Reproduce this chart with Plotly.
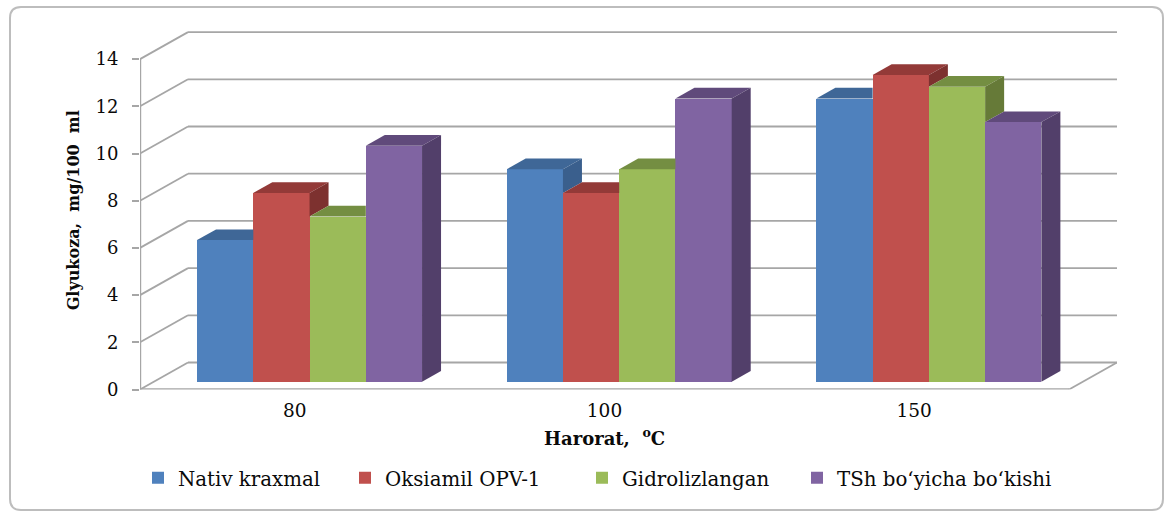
import plotly.graph_objects as go

categories = ["80", "100", "150"]
series_names = ["Nativ kraxmal", "Oksiamil OPV-1", "Gidrolizlangan", "TSh bo‘yicha bo‘kishi"]
nativ = [6, 9, 12]
oksiamil = [8, 8, 13]
gidroliz = [7, 9, 12.5]
tsh = [10, 12, 11]
y_ticks = [0, 2, 4, 6, 8, 10, 12, 14]

front_colors = ["#4F81BD", "#C0504D", "#9BBB59", "#8064A2"]
top_colors = ["#3F6797", "#933A38", "#748E42", "#604A7B"]
side_colors = ["#3A5F8D", "#7D312F", "#667A38", "#523F6A"]
GRID = "#A6A6A6"
FONT = "DejaVu Serif"
INK = "#0A0A0A"

W, H = 1168, 513
PX_L, PX_R, PX_T, PX_B = 140, 1117, 31, 389.5
X_UNIT, Y_UNIT = 309.67, 23.6
x_range = [-0.5, -0.5 + (PX_R - PX_L) / X_UNIT]
y_range = [0, (PX_B - PX_T) / Y_UNIT]
WALL_DX, WALL_DY = 48 / X_UNIT, 27 / Y_UNIT
BAR_W = 56.25 / X_UNIT
BAR_SHIFT = 0.0475
BAR_BASE = 7.8 / Y_UNIT
BAR_DX, BAR_DY = 19 / X_UNIT, 10.7 / Y_UNIT

series = [nativ, oksiamil, gidroliz, tsh]
fig = go.Figure()

def face(xs, ys, color):
    fig.add_trace(go.Scatter(x=xs, y=ys, mode="lines", fill="toself", fillcolor=color,
                             line=dict(width=0, color=color), showlegend=False, hoverinfo="skip"))

legend_ids = ["legend", "legend2", "legend3", "legend4"]
for k, vals in enumerate(series):
    xl = [i + (k - 2) * BAR_W + BAR_SHIFT for i in range(len(categories))]
    fig.add_trace(go.Bar(x=[v + BAR_W / 2 for v in xl], y=vals, base=BAR_BASE, width=BAR_W,
                         name=series_names[k], marker=dict(color=front_colors[k], line=dict(width=0)),
                         legend=legend_ids[k], showlegend=True))

for i in range(len(categories)):
    for k, vals in enumerate(series):
        xl = i + (k - 2) * BAR_W + BAR_SHIFT
        xr = xl + BAR_W
        top = vals[i] + BAR_BASE
        nxt = series[k + 1][i] + BAR_BASE if k < 3 else None
        if nxt is not None and nxt >= top:
            face([xl, xr, xr, xl + BAR_DX, xl], [top, top, top + BAR_DY, top + BAR_DY, top], top_colors[k])
        else:
            face([xl, xr, xr + BAR_DX, xl + BAR_DX, xl], [top, top, top + BAR_DY, top + BAR_DY, top], top_colors[k])
            low = BAR_BASE if nxt is None else nxt
            face([xr, xr + BAR_DX, xr + BAR_DX, xr, xr],
                 [top, top + BAR_DY, low + BAR_DY, low, top], side_colors[k])

shapes = []
def seg(x0, y0, x1, y1, width=1.8, color=GRID):
    shapes.append(dict(type="line", xref="x", yref="y", x0=x0, y0=y0, x1=x1, y1=y1,
                       layer="below", line=dict(color=color, width=width)))

x_end = x_range[0] + 3
for v in y_ticks:
    seg(x_range[0], v, x_range[0] + WALL_DX, v + WALL_DY)
    seg(x_range[0] + WALL_DX, v + WALL_DY, x_end + WALL_DX, v + WALL_DY)
seg(x_range[0], 0, x_end, 0, 2.4)
seg(x_end, 0, x_end + WALL_DX, WALL_DY)
seg(x_range[0], 0, x_range[0], 14, 2.4)

def px(x):
    return x / W
def py(y):
    return 1 - y / H
L, R, T, B, C = 10, 1163, 7, 510, 11
frame = (f"M{px(L+C)},{py(T)} L{px(R-C)},{py(T)} Q{px(R)},{py(T)} {px(R)},{py(T+C)} "
         f"L{px(R)},{py(B-C)} Q{px(R)},{py(B)} {px(R-C)},{py(B)} L{px(L+C)},{py(B)} "
         f"Q{px(L)},{py(B)} {px(L)},{py(B-C)} L{px(L)},{py(T+C)} Q{px(L)},{py(T)} {px(L+C)},{py(T)} Z")
shapes.append(dict(type="path", xref="paper", yref="paper", path=frame, layer="below",
                   line=dict(color="#BDBDBD", width=2), fillcolor="white"))

legend_x = [138, 345, 582, 797]
layout_legends = {}
for lid, lx in zip(legend_ids, legend_x):
    layout_legends[lid] = dict(x=lx / W, y=1 - 478 / H, xanchor="left", yanchor="middle",
                               orientation="h", bgcolor="rgba(0,0,0,0)", itemwidth=30,
                               font=dict(family=FONT, size=19.8, color=INK))

fig.update_layout(
    width=W, height=H, margin=dict(l=0, r=0, t=0, b=0, autoexpand=False),
    paper_bgcolor="white", plot_bgcolor="rgba(0,0,0,0)",
    barmode="overlay", bargap=0, shapes=shapes, hovermode=False,
    annotations=[dict(text="<b>Harorat,  <sup>o</sup>C</b>", xref="paper", yref="paper",
                      x=604 / W, y=1 - 437 / H, xanchor="center", yanchor="middle", showarrow=False,
                      font=dict(family=FONT, size=18, color=INK))],
    xaxis=dict(domain=[PX_L / W, PX_R / W], range=x_range, tickmode="array",
               tickvals=list(range(len(categories))), ticktext=categories,
               showgrid=False, zeroline=False, showline=False,
               ticks="outside", ticklen=4, tickcolor="rgba(0,0,0,0)",
               tickfont=dict(family=FONT, size=18.5, color=INK)),
    yaxis=dict(domain=[1 - PX_B / H, 1 - PX_T / H], range=y_range, tickmode="array",
               tickvals=y_ticks, showgrid=False, zeroline=False, showline=False,
               ticks="outside", ticklen=7, tickwidth=1.5, tickcolor=GRID, ticklabelstandoff=10,
               tickfont=dict(family=FONT, size=18, color=INK),
               title=dict(text="<b>Glyukoza,  mg/100  ml</b>", standoff=11,
                          font=dict(family=FONT, size=16, color=INK))),
    **layout_legends,
)

fig.write_html("out.html", config=dict(displayModeBar=False),
               post_script="document.body.style.margin='0';document.body.style.overflow='hidden';")
